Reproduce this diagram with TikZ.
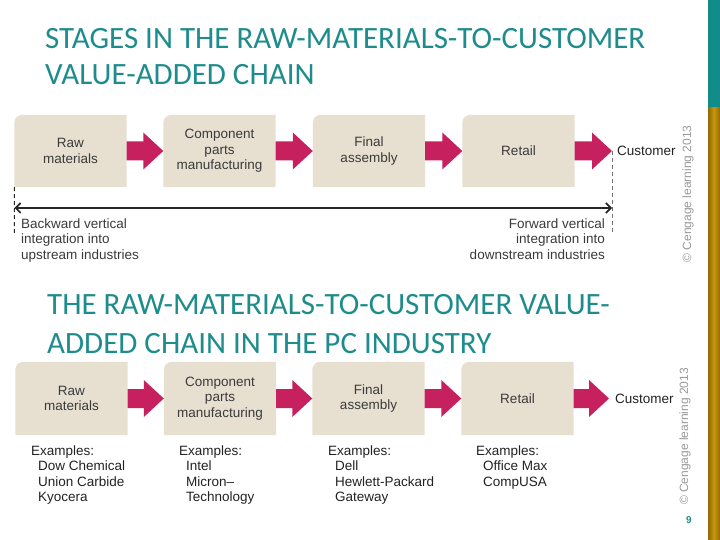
\documentclass[tikz,border=0pt]{standalone}
\usepackage{fontspec}
\setmainfont{Liberation Sans}
\newfontfamily\titlefont{Carlito}
\usetikzlibrary{arrows.meta,calc,backgrounds}
\definecolor{teal1}{HTML}{1E8C8C}
\definecolor{tealbar}{HTML}{118C88}
\definecolor{golddark}{HTML}{8F6A05}
\definecolor{goldlight}{HTML}{C8950F}
\definecolor{boxfill}{HTML}{E7E0D1}
\definecolor{arrowc}{HTML}{C6215E}
\definecolor{txtgray}{HTML}{3A3A3A}
\definecolor{txtdark}{HTML}{222222}
\newcommand\blockarr[2]{\fill[arrowc] ($(#1.east)+(0,-9.5)$) -- ($(#2)+(-20,-9.5)$) -- ($(#2)+(-20,-18.5)$) -- (#2) -- ($(#2)+(-20,18.5)$) -- ($(#2)+(-20,9.5)$) -- ($(#1.east)+(0,9.5)$) -- cycle;}
\newcommand\stagebg[1]{\fill[boxfill] (#1.south west) -- ($(#1.north west)+(0,8)$) arc[start angle=180, end angle=90, radius=8pt] -- (#1.north east) -- (#1.south east) -- cycle;}
\begin{document}
\begin{tikzpicture}[x=1pt,y=-1pt,
  stage/.style={minimum width=112pt, minimum height=72pt, inner sep=0pt, align=center, font=\fontsize{13.5}{15.5}\selectfont, text=txtgray},
  title/.style={anchor=base west, inner sep=0pt, font=\titlefont\fontsize{31}{36}\selectfont, text=teal1},
  lbl/.style={inner sep=0pt, font=\fontsize{13.5}{15.5}\selectfont, text=txtdark},
  copyr/.style={rotate=90, inner sep=0pt, font=\fontsize{12}{12}\selectfont, text=black!40},
  dashln/.style={dash pattern=on 4pt off 3pt, line width=1pt}
]
\useasboundingbox (0,0) rectangle (720,540);
% side bar
\fill[tealbar] (708,0) rectangle (720,108);
\shade[left color=golddark, right color=golddark, middle color=goldlight] (708,108) rectangle (720,540);

% titles
\node[title] (h1a) at (45,49) {STAGES IN THE RAW-MATERIALS-TO-CUSTOMER};
\node[title] (h1b) at (45,85) {VALUE-ADDED CHAIN};
\node[title] (h2a) at (47,314) {THE RAW-MATERIALS-TO-CUSTOMER VALUE-};
\node[title] (h2b) at (47,353) {ADDED CHAIN IN THE PC INDUSTRY};

% top row
\node[stage] (t1) at (70.5,151) {Raw\\materials};
\node[stage] (t2) at (219.5,151) {Component\\parts\\manufacturing};
\node[stage] (t3) at (369,151) {Final\\assembly};
\node[stage] (t4) at (518.5,151) {Retail};
\coordinate (ct) at (612,151);
\node[lbl, anchor=west] (custT) at (617,151) {Customer};

% bottom row
\node[stage, minimum height=73pt] (b1) at (71.5,398.5) {Raw\\materials};
\node[stage, minimum height=73pt] (b2) at (220,398.5) {Component\\parts\\manufacturing};
\node[stage, minimum height=73pt] (b3) at (368.5,398.5) {Final\\assembly};
\node[stage, minimum height=73pt] (b4) at (517.5,398.5) {Retail};
\coordinate (cb) at (609,398.5);
\node[lbl, anchor=west] (custB) at (615,398.5) {Customer};

\begin{scope}[on background layer]
  \foreach \n in {t1,t2,t3,t4,b1,b2,b3,b4} {\stagebg{\n}}
\end{scope}

\blockarr{t1}{t2.west}
\blockarr{t2}{t3.west}
\blockarr{t3}{t4.west}
\blockarr{t4}{ct}
\blockarr{b1}{b2.west}
\blockarr{b2}{b3.west}
\blockarr{b3}{b4.west}
\blockarr{b4}{cb}

% integration arrows
\coordinate (hL) at (14.5,208);
\coordinate (hR) at (612,208);
\coordinate (dL) at (14.5,233);
\coordinate (dR) at (612,233);
\draw[dashln, black!85] (t1.south west) -- (dL);
\draw[dashln, black!55] (ct) -- (dR);
\draw[line width=1.6pt, black!85, {Straight Barb[length=5pt,width=10pt]}-{Straight Barb[length=5pt,width=10pt]}] (hL) -- (hR);
\node[lbl, anchor=north west, align=left, text=txtgray] (bw) at (21,218.5) {Backward vertical\\integration into\\upstream industries};
\node[lbl, anchor=north east, align=right, text=txtgray] (fw) at (605,218.5) {Forward vertical\\integration into\\downstream industries};

% examples
\node[lbl, anchor=north west, align=left] (e1) at (31,445.5) {Examples:\\\hspace*{7pt}Dow Chemical\\\hspace*{7pt}Union Carbide\\\hspace*{7pt}Kyocera};
\node[lbl, anchor=north west, align=left] (e2) at (179,445.5) {Examples:\\\hspace*{7pt}Intel\\\hspace*{7pt}Micron--\\\hspace*{7pt}Technology};
\node[lbl, anchor=north west, align=left] (e3) at (328,445.5) {Examples:\\\hspace*{7pt}Dell\\\hspace*{7pt}Hewlett-Packard\\\hspace*{7pt}Gateway};
\node[lbl, anchor=north west, align=left] (e4) at (476,445.5) {Examples:\\\hspace*{7pt}Office Max\\\hspace*{7pt}CompUSA};

% copyright and page number
\node[copyr] (cr1) at (688,194) {© Cengage learning 2013};
\node[copyr] (cr2) at (685,436.5) {© Cengage learning 2013};
\node[inner sep=0pt, font=\bfseries\fontsize{10}{10}\selectfont, text=teal1] (pg) at (689,520) {9};
\end{tikzpicture}
\end{document}
